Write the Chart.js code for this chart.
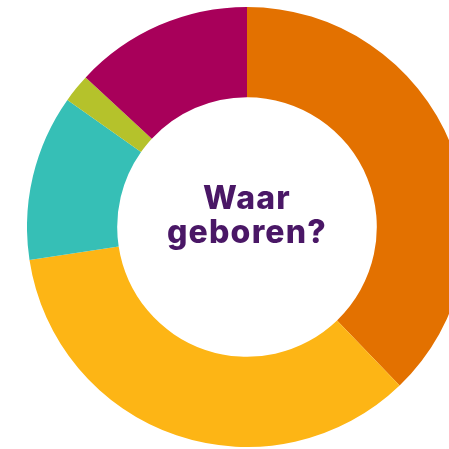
<!DOCTYPE html>
<html>
<head>
<meta charset="utf-8">
<script src="https://cdn.jsdelivr.net/npm/chart.js@4/dist/chart.umd.min.js"></script>
<style>
  html, body { margin:0; padding:0; width:449px; height:449px; overflow:hidden; background:#fff; }
  #wrap { position:absolute; left:26.5px; top:7px; width:440px; height:440px; }
  #label {
    position:absolute; left:247px; top:215px; width:220px; transform:translate(-50%,-50%);
    text-align:center; font-family:Inter, "Noto Sans", sans-serif; font-weight:800;
    font-size:32px; line-height:34px; color:#4a1766; letter-spacing:1.2px;
  }
</style>
</head>
<body>
<div id="wrap"><canvas id="chart"></canvas></div>
<div id="label">Waar<br>geboren?</div>
<script>
// slices clockwise from the top
const categories = ['Oranje', 'Geel', 'Turquoise', 'Groen', 'Paars'];
const values = [37.8, 34.8, 12.2, 2.1, 13.1];
const colors = ['#e37100', '#fdb515', '#36bfb6', '#b5c22b', '#a8005a'];

const ctx = document.getElementById('chart').getContext('2d');
new Chart(ctx, {
  type: 'doughnut',
  data: {
    labels: categories,
    datasets: [{ data: values, backgroundColor: colors, borderWidth: 0, hoverOffset: 0 }]
  },
  options: {
    responsive: true,
    maintainAspectRatio: false,
    animation: false,
    cutout: '59%',
    layout: { padding: 0 },
    plugins: { legend: { display: false }, tooltip: { enabled: false } }
  }
});
</script>
</body>
</html>
